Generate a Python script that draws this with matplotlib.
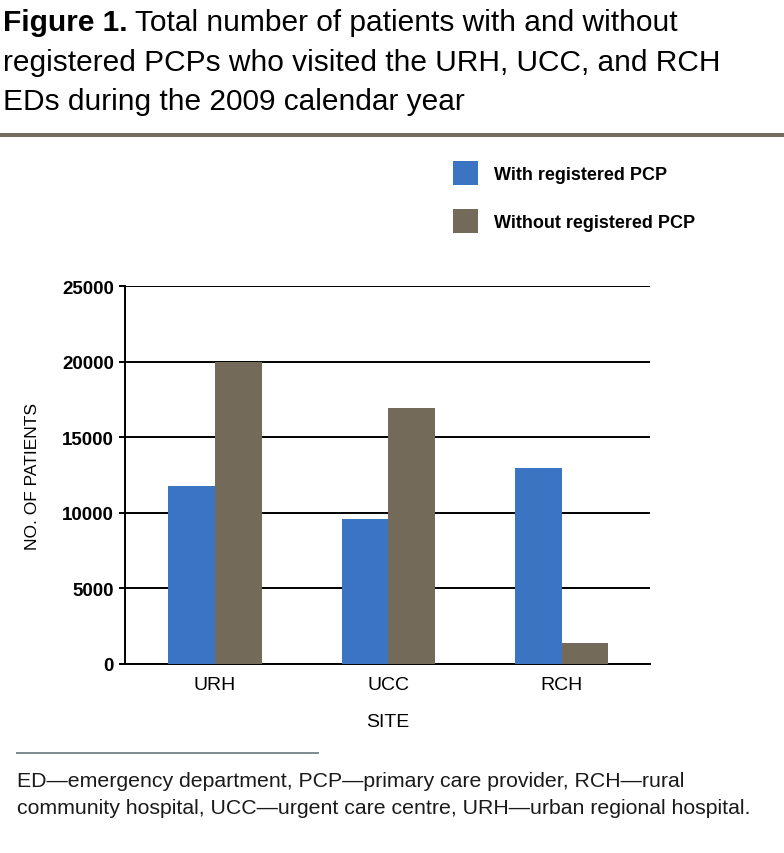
import matplotlib.pyplot as plt
from matplotlib.lines import Line2D

# data
sites = ["URH", "UCC", "RCH"]
with_pcp = [11800, 9600, 12950]
without_pcp = [20000, 16900, 1400]
y_ticks = [0, 5000, 10000, 15000, 20000, 25000]
series_labels = ["With registered PCP", "Without registered PCP"]

BLUE = "#3a74c2"
BROWN = "#736a5a"
W, H = 784, 854

plt.rcParams["font.family"] = ["Liberation Sans", "DejaVu Sans"]


def fx(px):
    return px / W


def fy(px):
    return 1 - px / H


fig = plt.figure(figsize=(W / 100, H / 100), dpi=100)
ax = fig.add_axes([fx(125), fy(665), fx(650) - fx(125), (665 - 287) / H])

x = list(range(len(sites)))
bw = 0.27
b1 = ax.bar([i - bw / 2 for i in x], with_pcp, bw, color=BLUE, zorder=3)
b2 = ax.bar([i + bw / 2 for i in x], without_pcp, bw, color=BROWN, zorder=3)

ax.set_xlim(-0.52, 2.51)
ax.set_ylim(0, 25000)
ax.set_yticks(y_ticks)
ax.set_yticklabels([str(v) for v in y_ticks], fontsize=13.5, fontweight="bold")
ax.set_xticks(x)
ax.set_xticklabels(sites, fontsize=14)
ax.tick_params(axis="x", length=0, pad=9)
ax.tick_params(axis="y", length=4, width=1.4, pad=4)
ax.grid(axis="y", color="black", lw=1.4, zorder=0)
ax.set_axisbelow(True)
for s in ("top", "right"):
    ax.spines[s].set_visible(False)
for s in ("left", "bottom"):
    ax.spines[s].set_linewidth(1.4)
ax.set_ylabel("NO. OF PATIENTS", fontsize=12.5, labelpad=16)
ax.set_xlabel("SITE", fontsize=14, labelpad=14)

ax.legend([b1, b2], series_labels, loc="upper left",
          bbox_to_anchor=(fx(453), fy(162)), bbox_transform=fig.transFigure,
          frameon=False, borderpad=0, borderaxespad=0,
          prop={"weight": "bold", "size": 13},
          handlelength=1.4, handleheight=1.7, handletextpad=0.85,
          labelspacing=1.3)

# title block
r = fig.canvas.get_renderer()
t0 = fig.text(fx(3), fy(31), "Figure 1.", fontsize=21.5, fontweight="bold",
              va="baseline", ha="left")
bb = t0.get_window_extent(renderer=r)
fig.text(bb.x1 / W + fx(7), fy(31), "Total number of patients with and without",
         fontsize=21.5, va="baseline", ha="left")
fig.text(fx(3), fy(71), "registered PCPs who visited the URH, UCC, and RCH",
         fontsize=21.5, va="baseline", ha="left")
fig.text(fx(3), fy(110), "EDs during the 2009 calendar year",
         fontsize=21.5, va="baseline", ha="left")
fig.add_artist(Line2D([0, 1], [fy(136), fy(136)], lw=2.9, color="#756d5f"))

# footnote
fig.add_artist(Line2D([fx(17), fx(318)], [fy(754), fy(754)], lw=1.4,
                      color="#7c8b91"))
fig.text(fx(17), fy(787),
         "ED\u2014emergency department, PCP\u2014primary care provider, RCH\u2014rural",
         fontsize=15.3, va="baseline", ha="left", color="#1a1a1a")
fig.text(fx(17), fy(814),
         "community hospital, UCC\u2014urgent care centre, URH\u2014urban regional hospital.",
         fontsize=15.3, va="baseline", ha="left", color="#1a1a1a")

fig.savefig("out.png", dpi=100)
